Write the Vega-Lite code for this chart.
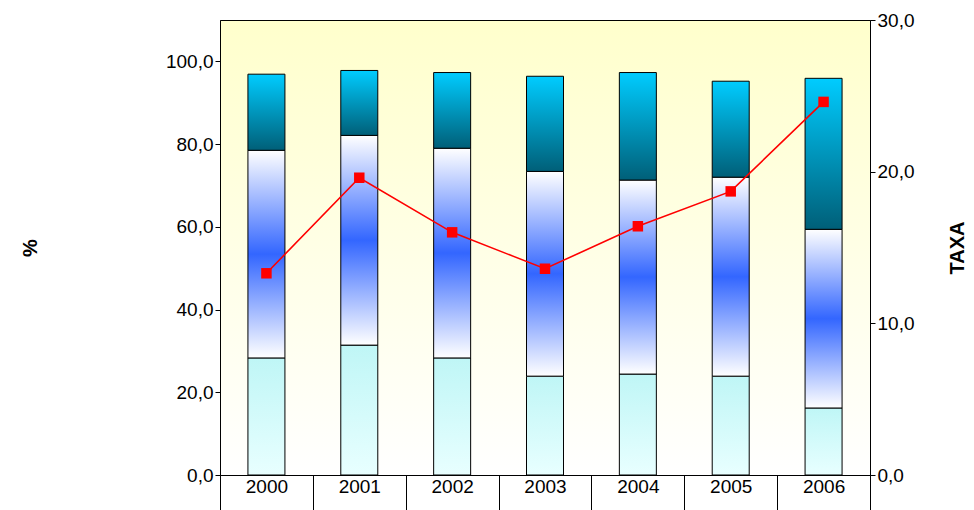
{
  "$schema": "https://vega.github.io/schema/vega-lite/v6.json",
  "width": 650,
  "height": 455,
  "autosize": "none",
  "padding": {"left": 220, "top": 20, "right": 104, "bottom": 35},
  "config": {
    "font": "Liberation Sans",
    "locale": {"number": {"decimal": ",", "thousands": ".", "grouping": [3], "currency": ["", ""]}},
    "view": {"stroke": "black", "fill": {"gradient": "linear", "x1": 0, "y1": 0, "x2": 0, "y2": 1, "stops": [{"offset": 0, "color": "#ffffcc"}, {"offset": 1, "color": "#ffffff"}]}}
  },
  "data": {"values": [
    {"ano": "2000", "base": 0, "low": 28.3, "mid": 78.5, "total": 96.9, "taxa": 13.3},
    {"ano": "2001", "base": 0, "low": 31.4, "mid": 82.1, "total": 97.8, "taxa": 19.6},
    {"ano": "2002", "base": 0, "low": 28.3, "mid": 79.0, "total": 97.3, "taxa": 16.0},
    {"ano": "2003", "base": 0, "low": 23.9, "mid": 73.4, "total": 96.4, "taxa": 13.6},
    {"ano": "2004", "base": 0, "low": 24.4, "mid": 71.3, "total": 97.3, "taxa": 16.4},
    {"ano": "2005", "base": 0, "low": 23.9, "mid": 72.0, "total": 95.2, "taxa": 18.7},
    {"ano": "2006", "base": 0, "low": 16.2, "mid": 59.4, "total": 95.9, "taxa": 24.6}
  ]},
  "encoding": {
    "x": {"field": "ano", "type": "nominal", "title": null, "scale": {"paddingInner": 0, "paddingOuter": 0},
      "axis": {"labelAngle": 0, "labelFontSize": 19, "labelColor": "black", "tickBand": "extent", "tickSize": 35, "tickColor": "black", "domainColor": "black", "labelPadding": -24, "labelBaseline": "middle"}}
  },
  "layer": [
    {
      "layer": [
        {"mark": {"type": "bar", "width": 37, "stroke": "black", "strokeWidth": 1,
          "color": {"gradient": "linear", "x1": 0, "y1": 0, "x2": 0, "y2": 1, "stops": [{"offset": 0, "color": "#bff6f6"}, {"offset": 1, "color": "#e8ffff"}]}},
         "encoding": {
           "y": {"field": "base", "type": "quantitative", "scale": {"domain": [0, 110]}, "title": "%",
             "axis": {"values": [0, 20, 40, 60, 80, 100], "format": ".1f", "grid": false, "labelFontSize": 19, "labelColor": "black", "domainColor": "black", "tickColor": "black", "titleFontSize": 20, "titleFontWeight": "bold", "titleX": -180, "titleColor": "black"}},
           "y2": {"field": "low"}}},
        {"mark": {"type": "bar", "width": 37, "stroke": "black", "strokeWidth": 1,
          "color": {"gradient": "linear", "x1": 0, "y1": 0, "x2": 0, "y2": 1, "stops": [{"offset": 0, "color": "#ffffff"}, {"offset": 0.5, "color": "#3366ff"}, {"offset": 1, "color": "#ffffff"}]}},
         "encoding": {"y": {"field": "low", "type": "quantitative"}, "y2": {"field": "mid"}}},
        {"mark": {"type": "bar", "width": 37, "stroke": "black", "strokeWidth": 1,
          "color": {"gradient": "linear", "x1": 0, "y1": 0, "x2": 0, "y2": 1, "stops": [{"offset": 0, "color": "#00ccff"}, {"offset": 1, "color": "#005f78"}]}},
         "encoding": {"y": {"field": "mid", "type": "quantitative"}, "y2": {"field": "total"}}}
      ]
    },
    {
      "layer": [
        {"mark": {"type": "line", "color": "#ff0000", "strokeWidth": 1.6}},
        {"mark": {"type": "square", "color": "#ff0000", "size": 110, "opacity": 1, "filled": true}}
      ],
      "encoding": {
        "y": {"field": "taxa", "type": "quantitative", "scale": {"domain": [0, 30]}, "title": "TAXA",
          "axis": {"orient": "right", "values": [0, 10, 20, 30], "format": ".1f", "grid": false, "labelFontSize": 19, "labelColor": "black", "domainColor": "black", "tickColor": "black", "titleFontSize": 20, "titleFontWeight": "bold", "titleAngle": 270, "titleX": 97, "titleColor": "black"}}
      }
    }
  ],
  "resolve": {"scale": {"y": "independent"}}
}
